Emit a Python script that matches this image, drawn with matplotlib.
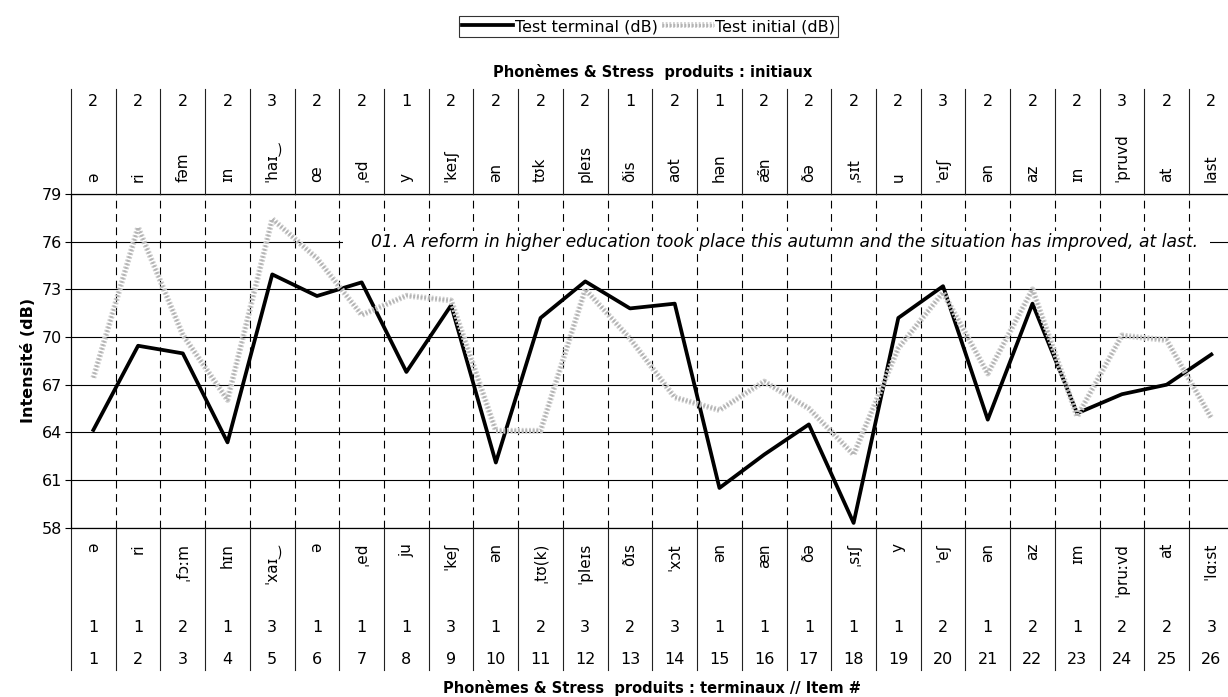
import numpy as np
import matplotlib
matplotlib.use('Agg')
import matplotlib.pyplot as plt
import matplotlib.patheffects as pe
from matplotlib.patches import Rectangle

plt.rcParams['font.family'] = ['DejaVu Sans']

#%% donnees
items = list(range(1, 27))

test_terminal = [64.15, 69.45, 68.97, 63.37, 73.94, 72.58, 73.44, 67.8, 72.0, 62.1,
                 71.2, 73.5, 71.8, 72.1, 60.5, 62.6, 64.5, 58.3, 71.2, 73.2,
                 64.8, 72.1, 65.2, 66.4, 67.0, 68.9]
test_initial = [67.44, 76.9, 70.13, 66.04, 77.43, 74.95, 71.39, 72.6, 72.3, 64.1,
                64.1, 73.0, 69.9, 66.2, 65.4, 67.2, 65.5, 62.6, 69.3, 72.8,
                67.7, 73.0, 65.0, 70.1, 69.8, 64.9]

phon_initiaux = ['ə', 'ri', 'fəm', 'ɪn', 'ˈhaɪ‿', 'œ', 'ˌed', 'y', 'ˈkeɪʃ', 'ən',
                 'tʊk', 'pleɪs', 'ðis', 'aot', 'hən', 'æ̃n', 'ðə', 'ˌsɪt', 'u', 'ˈeɪʃ',
                 'ən', 'az', 'ɪn', 'ˈpruvd', 'at', 'last']
stress_initiaux = [2, 2, 2, 2, 3, 2, 2, 1, 2, 2, 2, 2, 1, 2, 1, 2, 2, 2, 2, 3, 2, 2, 2, 3, 2, 2]

phon_terminaux = ['ə', 'ri', 'ˌfɔːm', 'hɪn', 'ˈxaɪ‿', 'ə', 'ˌed', 'ju', 'ˈkeʃ', 'ən',
                  'ˌtʊ(k)', 'ˈpleɪs', 'ðɪs', 'ˈxɔt', 'ən', 'æn', 'ðə', 'ˌsɪʃ', 'y', 'ˈeʃ',
                  'ən', 'az', 'ɪm', 'ˈpruːvd', 'at', 'ˈlɑːst']
stress_terminaux = [1, 1, 2, 1, 3, 1, 1, 1, 3, 1, 2, 3, 2, 3, 1, 1, 1, 1, 1, 2, 1, 2, 1, 2, 2, 3]

phrase = ('01. A reform in higher education took place this autumn '
          'and the situation has improved, at last.')

#%% figure
W, H = 1228, 697
fig = plt.figure(figsize=(W / 100, H / 100), dpi=100)

# zone du graphe en pixels
x0, y_haut, y_bas, col = 71, 194, 527.7, 44.72
ax = fig.add_axes([x0 / W, 1 - y_bas / H, 26 * col / W, (y_bas - y_haut) / H])

def ay(ypx):
    # pixel vertical -> coordonnee axes
    return (y_bas - ypx) / (y_bas - y_haut)

tr = ax.get_xaxis_transform()

ax.plot(items, test_terminal, color='black', lw=2.7, zorder=4, label='Test terminal (dB)')
ax.plot(items, test_initial, color='#b4b4b4', lw=2.2, ls=(0, (0.6, 0.6)), zorder=5,
        label='Test initial (dB)',
        path_effects=[pe.Stroke(linewidth=4.2, foreground='#cfcfcf'), pe.Normal()])

ax.set_xlim(0.5, 26.5)
ax.set_ylim(58, 79)
ax.set_yticks(np.arange(58, 80, 3))
ax.set_xticks([])
ax.tick_params(axis='y', labelsize=11.5, length=4.5, width=0.8, pad=2)
for s in ['top', 'right', 'bottom']:
    ax.spines[s].set_visible(False)
ax.spines['left'].set_linewidth(0.9)
ax.yaxis.grid(True, color='black', lw=0.8)
ax.set_axisbelow(True)
ax.axhline(58, color='black', lw=0.9, clip_on=False, zorder=1)
ax.axhline(79, color='black', lw=0.9, clip_on=False, zorder=1)
ax.set_ylabel('Intensité (dB)', fontsize=11.5, fontweight='bold', labelpad=4)

# lignes verticales pointillees entre les items
for k in range(1, 26):
    ax.axvline(k + 0.5, color='black', lw=0.8, ls=(0, (7, 5)), zorder=1)

# cadre blanc sous la phrase
ax.add_patch(Rectangle((6.58, 75.3), 19.4, 1.4, facecolor='white', edgecolor='none', zorder=2))
ax.text(7.2, 76, phrase, fontsize=12.3, style='italic', va='center', ha='left', zorder=3)

# tableaux du haut et du bas
for k in range(27):
    ax.plot([k + 0.5, k + 0.5], [ay(89), 1], transform=tr, color='#222222', lw=0.8, clip_on=False)
    ax.plot([k + 0.5, k + 0.5], [0, ay(670)], transform=tr, color='#222222', lw=0.8, clip_on=False)

for i in range(26):
    x = items[i]
    ax.text(x, ay(101), str(stress_initiaux[i]), transform=tr, ha='center', va='center', fontsize=11.5)
    ax.text(x, ay(182), phon_initiaux[i], transform=tr, ha='center', va='bottom', rotation=90,
            fontsize=11)
    ax.text(x, ay(543), phon_terminaux[i], transform=tr, ha='center', va='top', rotation=90,
            fontsize=11)
    ax.text(x, ay(627), str(stress_terminaux[i]), transform=tr, ha='center', va='center', fontsize=11.5)
    ax.text(x, ay(660), str(items[i]), transform=tr, ha='center', va='center', fontsize=11.5)

cx = (x0 + 13 * col) / W
fig.text(cx, 1 - 72 / H, 'Phonèmes & Stress  produits : initiaux', ha='center', va='center',
         fontsize=10.5, fontweight='bold')
fig.text(cx, 1 - 688 / H, 'Phonèmes & Stress  produits : terminaux // Item #', ha='center',
         va='center', fontsize=10.5, fontweight='bold')

leg = ax.legend(loc='center', bbox_to_anchor=(648.5 / W, 1 - 26.5 / H), bbox_transform=fig.transFigure,
                ncol=2, fontsize=11.5, frameon=True, fancybox=False, handlelength=3.2,
                handletextpad=0.1, columnspacing=0.3, borderpad=0.2, borderaxespad=0)
leg.get_frame().set_edgecolor('black')
leg.get_frame().set_linewidth(0.8)

plt.savefig('out.png', dpi=100)
